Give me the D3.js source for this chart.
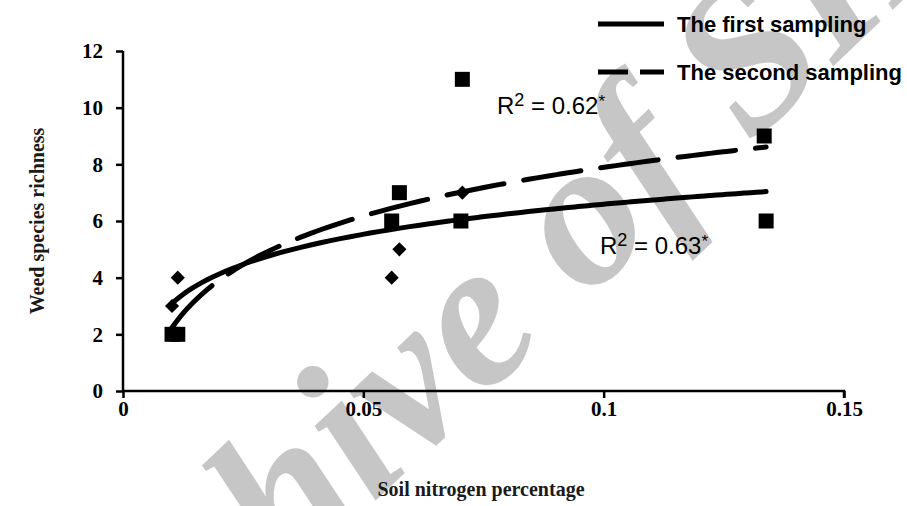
<!DOCTYPE html>
<html lang="en">
<head>
    <meta charset="UTF-8">
    <title>Weed species richness vs soil nitrogen</title>
    <script src="https://d3js.org/d3.v7.min.js"></script>
    <style>
        body { margin: 0; background: #fff; }
        svg { display: block; }
        .tick-label { font-family: 'Liberation Serif', serif; font-weight: bold; font-size: 21px; fill: #000; }
        .axis-title { font-family: 'Liberation Serif', serif; font-weight: bold; font-size: 20px; fill: #1a1a1a; }
        .legend text { font-family: 'Liberation Sans', Arial, sans-serif; font-weight: bold; font-size: 22px; }
        .r2 { font-family: 'Liberation Sans', Arial, sans-serif; font-size: 24px; }
    </style>
</head>
<body>
<div id="chart"></div>
<script>
    // site nitrogen values (shared by both samplings)
    const nitrogen = [0.0102, 0.0114, 0.0559, 0.0575, 0.0703, 0.0706, 0.1334, 0.1338];
    const firstSampling = [3, 4, 4, 5, 6, 7, 9, 6];
    const secondSampling = [2, 2, 6, 7, 6, 11, 9, 6];

    const xTicks = [0, 0.05, 0.1, 0.15];
    const yTicks = [0, 2, 4, 6, 8, 10, 12];
    const seriesNames = ["The first sampling", "The second sampling"];
    const r2Values = ["0.63", "0.62"];

    const width = 907, height = 506;
    const margin = { top: 51, right: 63, bottom: 115, left: 123 };

    const svg = d3.select("#chart").append("svg")
        .attr("width", width)
        .attr("height", height);

    const x = d3.scaleLinear().domain([0, 0.15]).range([margin.left, width - margin.right]);
    const y = d3.scaleLinear().domain([0, 12]).range([height - margin.bottom, margin.top]);

    // watermark
    svg.append("text")
        .attr("transform", "translate(60,800) rotate(-43.5)")
        .attr("font-family", "'Liberation Serif', serif")
        .attr("font-style", "italic")
        .attr("font-weight", "bold")
        .attr("font-size", 209)
        .attr("fill", "#c6c6c6")
        .text("Archive of SID");

    // axes
    const xAxis = svg.append("g")
        .attr("transform", `translate(0,${y(0)})`)
        .call(d3.axisBottom(x).tickValues(xTicks).tickSize(7).tickFormat(d3.format("")));
    const yAxis = svg.append("g")
        .attr("transform", `translate(${x(0)},0)`)
        .call(d3.axisLeft(y).tickValues(yTicks).tickSize(7));

    [xAxis, yAxis].forEach(g => {
        g.select(".domain").attr("stroke", "#000").attr("stroke-width", 2.5);
        g.selectAll(".tick line").attr("stroke", "#000").attr("stroke-width", 2.5);
        g.selectAll(".tick text").attr("class", "tick-label").attr("font-size", null).attr("font-family", null);
    });
    yAxis.selectAll(".tick text").attr("x", -20);
    yAxis.select(".domain").attr("d", `M0,${y(12)}V${y(0)}`);
    xAxis.select(".domain").attr("d", `M${x(0)},0H${x(0.15)}V7`);

    svg.append("text").attr("class", "axis-title")
        .attr("x", 481).attr("y", 496)
        .attr("text-anchor", "middle")
        .text("Soil nitrogen percentage");
    svg.append("text").attr("class", "axis-title")
        .attr("transform", `translate(44,${(y(0) + y(12)) / 2}) rotate(-90)`)
        .attr("text-anchor", "middle")
        .text("Weed species richness");

    // logarithmic trend line fitted to the points
    function logFit(xs, ys) {
        const lx = xs.map(Math.log);
        const mx = d3.mean(lx), my = d3.mean(ys);
        let sxy = 0, sxx = 0;
        lx.forEach((v, i) => { sxy += (v - mx) * (ys[i] - my); sxx += (v - mx) * (v - mx); });
        const a = sxy / sxx;
        return t => my + a * (Math.log(t) - mx);
    }

    const line = d3.line().x(d => x(d[0])).y(d => y(d[1])).curve(d3.curveMonotoneX);
    const [xmin, xmax] = d3.extent(nitrogen);
    const samples = d3.range(0, 61).map(i => xmin + (xmax - xmin) * i / 60);

    [firstSampling, secondSampling].forEach((vals, si) => {
        const f = logFit(nitrogen, vals);
        svg.append("path")
            .attr("d", line(samples.map(t => [t, f(t)])))
            .attr("fill", "none")
            .attr("stroke", "#000")
            .attr("stroke-width", 5)
            .attr("stroke-linecap", "round")
            .attr("stroke-dasharray", si === 1 ? "58,20" : null);
    });

    // points
    svg.selectAll(".pt1").data(nitrogen.map((n, i) => [n, firstSampling[i]]))
        .join("path")
        .attr("d", d3.symbol(d3.symbolSquare, 100))
        .attr("transform", d => `translate(${x(d[0])},${y(d[1])}) rotate(45)`)
        .attr("fill", "#000");
    svg.selectAll(".pt2").data(nitrogen.map((n, i) => [n, secondSampling[i]]))
        .join("path")
        .attr("d", d3.symbol(d3.symbolSquare, 225))
        .attr("transform", d => `translate(${x(d[0])},${y(d[1])})`)
        .attr("fill", "#000");

    // R² labels
    function r2Label(px, py, val) {
        const t = svg.append("text").attr("class", "r2").attr("x", px).attr("y", py);
        t.append("tspan").text("R");
        t.append("tspan").attr("font-size", 18).attr("dy", -8).text("2");
        t.append("tspan").attr("dy", 8).text(" = " + val);
        t.append("tspan").attr("font-size", 17).attr("dy", -7).text("*");
    }
    r2Label(600, 254, r2Values[0]);
    r2Label(497, 114, r2Values[1]);

    // legend
    const legend = svg.append("g").attr("class", "legend");
    seriesNames.forEach((name, i) => {
        const ly = 24 + i * 48;
        legend.append("line")
            .attr("x1", 598).attr("x2", 664).attr("y1", ly).attr("y2", ly)
            .attr("stroke", "#000").attr("stroke-width", 5)
            .attr("stroke-dasharray", i === 1 ? "30,12" : null);
        legend.append("text").attr("x", 677).attr("y", ly + 8).text(name);
    });
</script>
</body>
</html>
